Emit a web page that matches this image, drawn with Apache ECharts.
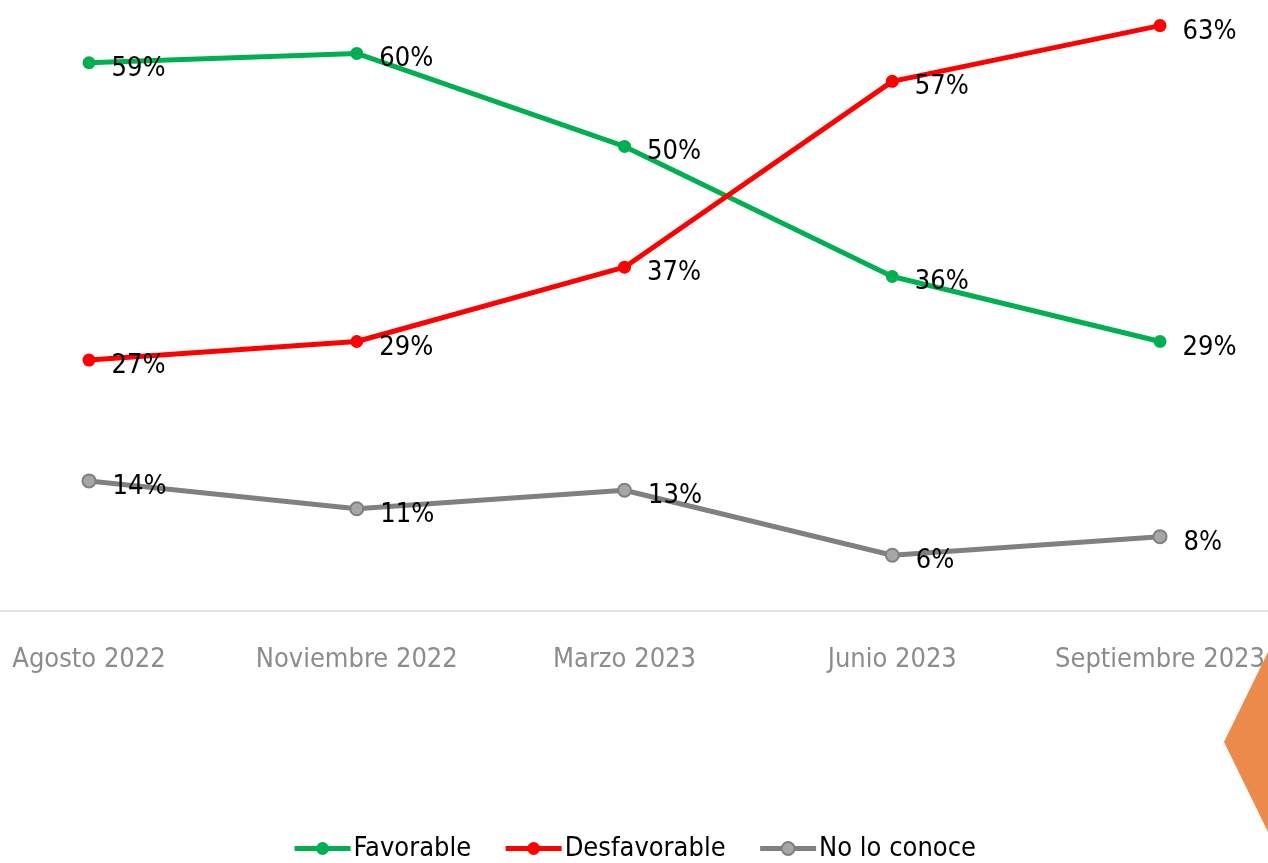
<!DOCTYPE html>
<html>
<head>
<meta charset="utf-8">
<script src="https://cdn.jsdelivr.net/npm/echarts@6/dist/echarts.min.js"></script>
<style>
  html, body { margin: 0; padding: 0; background: #fff; }
  #chart { width: 1268px; height: 863px; }
</style>
</head>
<body>
<div id="chart"></div>
<script>
const categories = ['Agosto 2022', 'Noviembre 2022', 'Marzo 2023', 'Junio 2023', 'Septiembre 2023'];
const favorable = [59, 60, 50, 36, 29];
const desfavorable = [27, 29, 37, 57, 63];
const noLoConoce = [14, 11, 13, 6, 8];

const font = '"DejaVu Sans Condensed", "Liberation Sans Narrow", sans-serif';

function lineSeries(name, data, color, fill) {
  return {
    name: name,
    type: 'line',
    data: data,
    symbol: 'circle',
    symbolSize: 13,
    lineStyle: { color: color, width: 5 },
    itemStyle: { color: fill || color, borderColor: color, borderWidth: fill ? 2 : 0 },
    label: {
      show: true,
      position: 'right',
      distance: 16,
      offset: [0, 6],
      formatter: '{c}%',
      color: '#000',
      fontFamily: font,
      fontSize: 27,
    },
    animation: false,
  };
}

const chart = echarts.init(document.getElementById('chart'));
chart.setOption({
  backgroundColor: '#fff',
  grid: [
    { left: 89, right: 107, top: 7, bottom: 252 },
    // full-width baseline, like the cropped original plot area
    { left: 0, right: 0, top: 7, bottom: 252 },
  ],
  xAxis: [{
    type: 'category',
    gridIndex: 0,
    data: categories,
    boundaryGap: false,
    axisLine: { show: false },
    axisTick: { show: false },
    axisLabel: {
      interval: 0,
      color: '#8c8c8c',
      fontFamily: font,
      fontSize: 27,
      margin: 35,
    },
  }, {
    type: 'category',
    gridIndex: 1,
    data: categories,
    axisLine: { lineStyle: { color: '#d9d9d9', width: 1.5 } },
    axisTick: { show: false },
    axisLabel: { show: false },
  }],
  yAxis: [{
    type: 'value',
    gridIndex: 0,
    min: 0,
    max: 65,
    show: false,
  }, {
    type: 'value',
    gridIndex: 1,
    show: false,
  }],
  legend: {
    bottom: -4,
    left: 'center',
    itemWidth: 56,
    itemHeight: 16,
    itemGap: 32,
    lineStyle: { width: 5 },
    textStyle: { color: '#000', fontFamily: font, fontSize: 27, padding: [0, 0, 0, -2] },
    data: ['Favorable', 'Desfavorable', 'No lo conoce'],
  },
  graphic: [{
    type: 'polygon',
    shape: { points: [[1268, 652], [1224, 742], [1268, 832]] },
    style: { fill: '#ec8a4b' },
    silent: true,
  }],
  series: [
    lineSeries('Favorable', favorable, '#00b050'),
    lineSeries('Desfavorable', desfavorable, '#ff0000'),
    lineSeries('No lo conoce', noLoConoce, '#808080', '#a6a6a6'),
  ],
});
</script>
</body>
</html>
